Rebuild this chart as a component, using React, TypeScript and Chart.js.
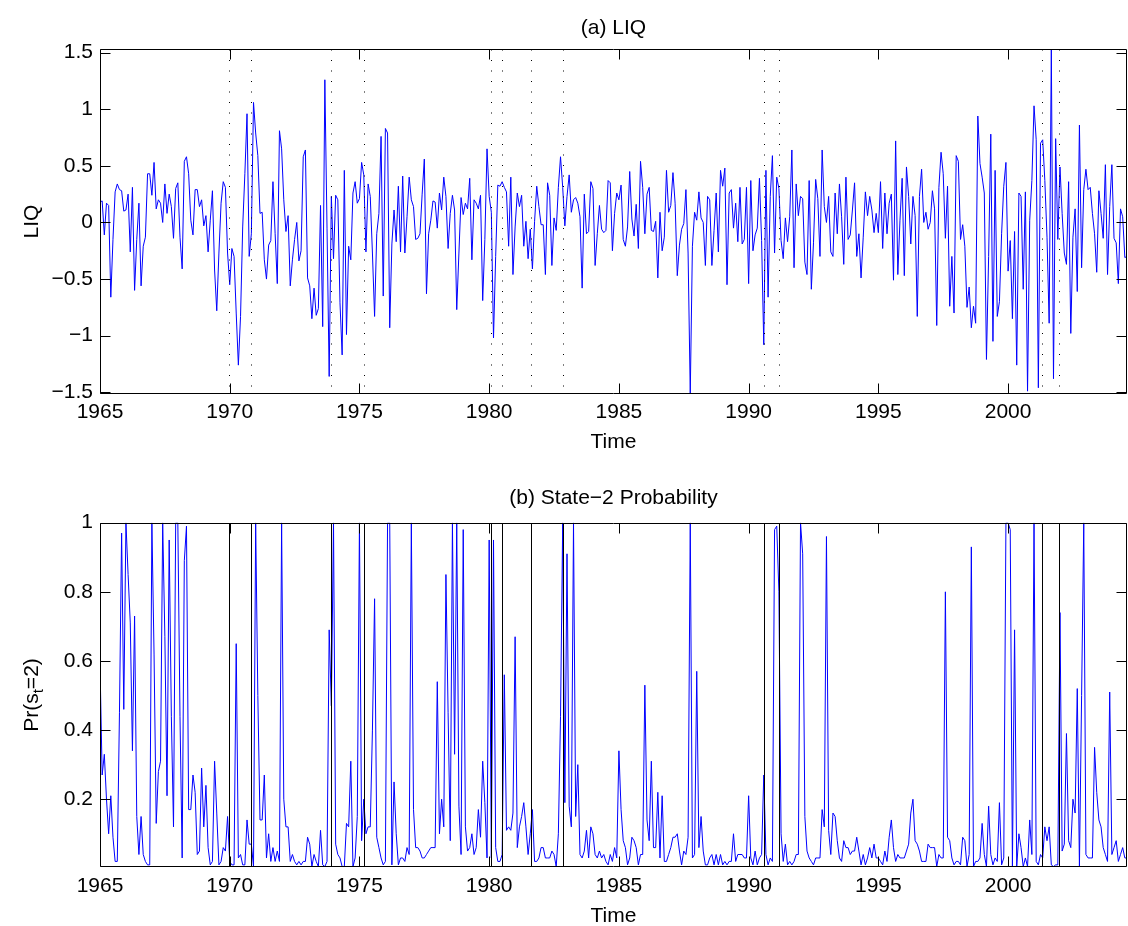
import React, { useEffect, useRef } from 'react';
import { Chart, registerables } from 'chart.js';

Chart.register(...registerables);

// ---------------- data ----------------
const START_YEAR = 1965;

// Monthly LIQ series, 1965:01 onward
const LIQ: number[] = [
  0.18, 0.19, -0.11, 0.17, 0.15, -0.66, -0.15, 0.27, 0.34, 0.29, 0.28, 0.10,
  0.11, 0.25, -0.26, 0.31, -0.60, -0.15, 0.17, -0.56, -0.21, -0.13, 0.43, 0.43,
  0.24, 0.53, 0.12, 0.20, 0.17, 0.00, 0.34, 0.08, 0.25, 0.14, -0.14, 0.30,
  0.35, -0.13, -0.41, 0.54, 0.58, 0.43, 0.02, -0.11, 0.29, 0.29, 0.14, 0.20,
  -0.03, 0.06, -0.26, 0.02, 0.28, -0.42, -0.78, -0.27, 0.17, 0.36, 0.31, -0.27,
  -0.55, -0.23, -0.30, -0.80, -1.26, -0.83, -0.04, 0.43, 0.96, -0.30, -0.10, 1.06,
  0.79, 0.59, 0.08, 0.09, -0.33, -0.50, -0.20, -0.16, 0.36, -0.10, -0.54, 0.81,
  0.65, 0.20, -0.08, 0.06, -0.56, -0.33, -0.15, 0.00, -0.34, -0.25, 0.58, 0.64,
  -0.49, -0.56, -0.85, -0.58, -0.82, -0.76, 0.15, -0.92, 1.26, -0.05, -1.36, 0.23,
  -0.32, 0.24, 0.20, -0.71, -1.17, 0.46, -0.99, -0.21, -0.33, 0.26, 0.36, 0.17,
  0.21, 0.53, 0.42, -0.26, 0.34, 0.23, -0.27, -0.83, -0.10, 0.08, 0.76, -0.65,
  0.83, 0.79, -0.93, -0.19, 0.11, -0.17, 0.32, -0.26, 0.41, -0.27, 0.05, 0.40,
  0.20, 0.14, -0.15, -0.14, -0.10, 0.25, 0.56, -0.63, -0.10, 0.02, 0.19, 0.18,
  -0.05, 0.26, 0.11, 0.40, 0.23, -0.23, 0.08, 0.24, 0.11, -0.77, -0.27, 0.22,
  0.07, 0.17, 0.12, 0.39, -0.33, 0.20, 0.17, 0.12, 0.24, -0.69, -0.15, 0.65,
  0.23, 0.09, -1.02, -0.30, 0.33, 0.32, 0.36, 0.31, 0.27, -0.21, 0.40, -0.46,
  -0.04, 0.26, 0.14, 0.24, -0.21, 0.01, -0.32, -0.06, -0.41, 0.01, 0.32, 0.14,
  -0.02, -0.02, -0.46, 0.35, 0.24, -0.38, 0.04, -0.07, 0.31, 0.58, 0.31, -0.03,
  0.23, 0.42, 0.09, 0.20, 0.22, 0.17, 0.05, -0.58, 0.25, -0.10, -0.08, 0.36,
  0.30, -0.38, -0.10, 0.15, -0.06, -0.09, -0.07, 0.37, 0.35, -0.25, 0.08, 0.26,
  0.20, 0.33, -0.15, -0.21, -0.04, 0.45, 0.03, -0.12, 0.16, -0.23, 0.54, 0.31,
  -0.10, 0.25, 0.31, -0.07, -0.08, 0.01, -0.49, 0.09, -0.25, -0.13, 0.46, 0.09,
  0.15, 0.44, 0.17, -0.47, -0.20, -0.06, -0.01, 0.29, -0.27, -1.515, -0.21, 0.09,
  0.02, 0.27, 0.04, 0.00, -0.38, 0.23, 0.20, -0.38, -0.07, 0.26, -0.26, 0.46,
  0.32, 0.48, -0.55, 0.26, 0.29, -0.05, 0.17, -0.17, 0.31, -0.19, -0.15, 0.31,
  -0.54, 0.37, -0.25, -0.11, -0.05, 0.39, -0.16, -1.08, 0.46, -0.66, 0.23, 0.59,
  -0.27, 0.40, 0.30, -0.16, -0.32, 0.04, -0.17, 0.05, 0.64, -0.40, 0.34, 0.06,
  0.23, 0.21, -0.35, -0.46, 0.37, -0.59, -0.18, 0.38, 0.21, -0.30, 0.64, 0.14,
  0.00, 0.23, -0.26, -0.30, 0.26, -0.10, 0.34, 0.05, -0.37, 0.40, -0.15, -0.11,
  0.11, 0.35, -0.30, -0.10, -0.49, -0.13, 0.27, 0.06, 0.23, 0.11, -0.09, 0.08,
  -0.09, 0.36, -0.23, 0.26, -0.10, 0.17, 0.25, -0.51, 0.72, -0.46, 0.02, 0.39,
  -0.47, 0.49, 0.23, -0.19, 0.23, 0.06, -0.83, 0.23, 0.47, 0.00, 0.09, -0.06,
  0.00, 0.28, 0.12, -0.91, 0.31, 0.62, 0.43, -0.14, 0.32, -0.74, -0.30, -0.80,
  0.59, 0.54, -0.15, -0.02, -0.21, -0.75, -0.57, -0.93, -0.74, -0.89, 0.94, 0.52,
  0.40, 0.26, -1.21, -0.30, 0.78, -1.05, 0.46, -0.83, -0.70, -0.10, 0.32, 0.53,
  -0.43, -0.16, -0.85, -0.08, -1.26, 0.26, 0.23, -0.59, 0.27, -1.49, 0.02, 0.37,
  1.03, 0.73, -1.46, 0.70, 0.73, 0.37, -0.13, -0.89, 1.53, -1.38, 0.74, -0.15,
  0.49, 0.08, -0.27, -0.37, 0.36, -0.98, -0.13, 0.12, -0.61, 0.86, -0.40, 0.29,
  0.47, 0.29, 0.31, 0.08, -0.10, -0.44, 0.28, 0.08, -0.14, 0.51, -0.46, 0.14,
  0.51, -0.14, -0.18, -0.54, 0.12, 0.05, -0.31, -0.30,
];

// Monthly state-2 probability, 1965:01 onward
const PROB: number[] = [
  0.59, 0.27, 0.33, 0.20, 0.10, 0.21, 0.09, 0.02, 0.02, 0.45, 0.97, 0.46,
  1.0, 0.85, 0.71, 0.34, 0.73, 0.15, 0.04, 0.15, 0.04, 0.02, 0.01, 0.01,
  1.0, 0.62, 0.13, 0.28, 0.31, 1.0, 0.67, 0.21, 0.95, 0.44, 0.12, 1.0,
  1.0, 0.44, 0.03, 0.89, 0.99, 0.17, 0.17, 0.27, 0.22, 0.04, 0.05, 0.29,
  0.12, 0.24, 0.06, 0.01, 0.02, 0.31, 0.16, 0.01, 0.02, 0.06, 0.05, 0.15,
  0.02, 0.01, 0.01, 0.65, 0.03, 0.04, 0.01, 0.01, 0.14, 0.07, 0.07, 0.005,
  1.0, 0.5, 0.14, 0.14, 0.27, 0.03, 0.10, 0.02, 0.06, 0.02, 0.05, 0.02,
  1.0, 0.2, 0.12, 0.12, 0.02, 0.04, 0.02, 0.01, 0.02, 0.01, 0.02, 0.02,
  0.09, 0.07, 0.005, 0.04, 0.02, 0.005, 0.11, 0.01, 0.005, 0.02, 0.69, 0.47,
  1.0, 0.07, 0.04, 0.03, 0.005, 0.005, 0.13, 0.12, 0.31, 0.005, 0.03, 0.15,
  1.0, 0.08, 0.2, 0.1, 0.12, 0.12, 0.4, 0.78, 0.09, 0.06, 0.03, 0.01,
  0.02, 1.0, 1.0, 0.01, 0.25, 0.1, 0.01, 0.03, 0.03, 0.02, 0.06, 0.04,
  1.0, 0.17, 0.06, 0.06, 0.05, 0.03, 0.03, 0.04, 0.05, 0.06, 0.06, 0.06,
  0.54, 0.10, 0.20, 0.12, 0.85, 0.45, 0.08, 1.0, 0.33, 1.0, 0.18, 0.04,
  0.98, 0.12, 0.05, 0.06, 0.10, 0.04, 0.06, 0.17, 0.09, 0.31, 0.19, 0.03,
  0.95, 0.03, 0.95, 0.06, 0.02, 0.02, 0.04, 0.56, 0.11, 0.12, 0.11, 0.16,
  0.67, 0.06, 0.12, 0.15, 0.19, 0.12, 0.04, 0.10, 0.17, 0.02, 0.02, 0.03,
  0.06, 0.06, 0.03, 0.03, 0.03, 0.05, 0.04, 0.005, 0.10, 0.44, 1.0, 0.19,
  0.91, 0.18, 0.12, 1.0, 0.15, 0.30, 0.04, 0.03, 0.05, 0.11, 0.03, 0.12,
  0.10, 0.04, 0.03, 0.05, 0.03, 0.04, 0.02, 0.01, 0.04, 0.02, 0.06, 0.03,
  0.34, 0.17, 0.08, 0.06, 0.01, 0.03, 0.09, 0.08, 0.06, 0.01, 0.04, 0.04,
  0.53, 0.14, 0.08, 0.31, 0.06, 0.06, 0.22, 0.03, 0.21, 0.02, 0.02, 0.04,
  0.06, 0.09, 0.09, 0.10, 0.05, 0.01, 0.05, 0.04, 0.09, 1.0, 0.03, 0.04,
  0.57, 0.06, 0.15, 0.05, 0.01, 0.01, 0.03, 0.04, 0.01, 0.04, 0.01, 0.04,
  0.01, 0.02, 0.01, 0.02, 0.02, 0.10, 0.02, 0.04, 0.04, 0.04, 0.03, 0.03,
  0.21, 0.03, 0.01, 0.05, 0.01, 0.03, 0.04, 0.27, 0.04, 0.01, 0.03, 0.02,
  0.98, 0.99, 0.80, 0.10, 0.02, 0.07, 0.01, 0.02, 0.01, 0.02, 0.04, 0.04,
  1.0, 0.91, 0.15, 0.05, 0.03, 0.02, 0.01, 0.03, 0.03, 0.03, 0.17, 0.12,
  0.96, 0.11, 0.04, 0.16, 0.15, 0.08, 0.03, 0.02, 0.08, 0.06, 0.06, 0.04,
  0.05, 0.05, 0.09, 0.05, 0.01, 0.04, 0.01, 0.03, 0.06, 0.03, 0.07, 0.03,
  0.03, 0.02, 0.01, 0.05, 0.02, 0.09, 0.14, 0.06, 0.02, 0.04, 0.03, 0.03,
  0.03, 0.05, 0.07, 0.16, 0.20, 0.08, 0.07, 0.05, 0.02, 0.02, 0.02, 0.07,
  0.06, 0.06, 0.06, 0.005, 0.04, 0.03, 0.03, 0.80, 0.09, 0.08, 0.03, 0.01,
  0.02, 0.02, 0.01, 0.09, 0.08, 0.005, 0.04, 0.93, 0.005, 0.02, 0.02, 0.03,
  0.13, 0.04, 0.005, 0.18, 0.04, 0.01, 0.03, 0.02, 0.19, 0.01, 0.03, 1.0,
  1.0, 0.98, 0.005, 0.69, 0.005, 0.10, 0.06, 0.005, 0.03, 0.005, 0.14, 0.04,
  1.0, 0.02, 0.01, 0.04, 0.03, 0.12, 0.08, 0.12, 0.01, 0.005, 0.01, 0.01,
  0.74, 0.05, 0.07, 0.39, 0.08, 0.06, 0.20, 0.16, 0.52, 0.005, 0.50, 1.0,
  0.04, 0.03, 0.03, 0.03, 0.35, 0.22, 0.14, 0.12, 0.06, 0.04, 0.02, 0.51,
  0.04, 0.06, 0.08, 0.02, 0.04, 0.06, 0.03, 0.03,
];

const MONTHS: number[] = LIQ.map((_, i) => START_YEAR + i / 12);

const X_TICKS = [1965, 1970, 1975, 1980, 1985, 1990, 1995, 2000];
const X_TICK_LABELS = ['1965', '1970', '1975', '1980', '1985', '1990', '1995', '2000'];

const LIQ_TICKS = [-1.5, -1, -0.5, 0, 0.5, 1, 1.5];
const LIQ_TICK_LABELS = ['\u22121.5', '\u22121', '\u22120.5', '0', '0.5', '1', '1.5'];
const LIQ_RANGE = [-1.515, 1.53];

const PROB_TICKS = [0.2, 0.4, 0.6, 0.8, 1];
const PROB_TICK_LABELS = ['0.2', '0.4', '0.6', '0.8', '1'];
const PROB_RANGE = [0.003, 1];

// NBER business-cycle dates (peaks / troughs) drawn as vertical lines
const RECESSION_LINES = [1969.98, 1970.81, 1973.92, 1975.17, 1980.07, 1980.5, 1981.6, 1982.84, 1990.6, 1991.16, 2001.29, 2001.97];

// ---------------- helpers ----------------
const FONT_FAMILY = '"Liberation Sans", Arial, Helvetica, sans-serif';
const FONT_SIZE = 21;
const TICK_LEN = 10;

function framePlugin(dotted: boolean, yTicks: number[], customYTitle: boolean) {
  return {
    id: 'matlabFrame',
    afterDatasetsDraw(chart: any) {
      const { ctx, chartArea: a, scales } = chart;
      const xs = scales.x;
      const ys = scales.y;
      const L = Math.round(a.left) + 0.5;
      const R = Math.round(a.right) - 0.5;
      const T = Math.round(a.top) + 0.5;
      const B = Math.round(a.bottom) - 0.5;
      ctx.save();
      ctx.strokeStyle = '#000';
      ctx.lineWidth = 1;
      // recession date lines
      if (dotted) ctx.setLineDash([1, 9.5]);
      RECESSION_LINES.forEach((d) => {
        const px = Math.round(xs.getPixelForValue(d)) + 0.5;
        ctx.beginPath();
        ctx.moveTo(px, T);
        ctx.lineTo(px, B);
        ctx.stroke();
      });
      ctx.setLineDash([]);
      // box
      ctx.beginPath();
      ctx.rect(L, T, R - L, B - T);
      ctx.stroke();
      // inward ticks
      ctx.beginPath();
      X_TICKS.forEach((v) => {
        const px = Math.round(xs.getPixelForValue(v)) + 0.5;
        ctx.moveTo(px, T);
        ctx.lineTo(px, T + TICK_LEN);
        ctx.moveTo(px, B);
        ctx.lineTo(px, B - TICK_LEN);
      });
      yTicks.forEach((v) => {
        const py = Math.round(ys.getPixelForValue(v)) + 0.5;
        ctx.moveTo(L, py);
        ctx.lineTo(L + TICK_LEN, py);
        ctx.moveTo(R, py);
        ctx.lineTo(R - TICK_LEN, py);
      });
      ctx.stroke();
      ctx.restore();
    },
    afterDraw(chart: any) {
      if (!customYTitle) return;
      const { ctx, chartArea: a } = chart;
      const big = `${FONT_SIZE}px ${FONT_FAMILY}`;
      const small = `15px ${FONT_FAMILY}`;
      const parts = [
        { t: 'Pr(s', f: big, dy: 0 },
        { t: 't', f: small, dy: 6 },
        { t: '=2)', f: big, dy: 0 },
      ];
      ctx.save();
      let total = 0;
      const widths = parts.map((p) => {
        ctx.font = p.f;
        const w = ctx.measureText(p.t).width;
        total += w;
        return w;
      });
      ctx.translate(32.6, (a.top + a.bottom) / 2);
      ctx.rotate(-Math.PI / 2);
      ctx.fillStyle = '#000';
      ctx.textBaseline = 'middle';
      ctx.textAlign = 'left';
      let x = -total / 2;
      parts.forEach((p, i) => {
        ctx.font = p.f;
        ctx.fillText(p.t, x, p.dy);
        x += widths[i];
      });
      ctx.restore();
    },
  };
}

type PanelProps = {
  top: number;
  height: number;
  title: string;
  titlePad: { top: number; bottom: number };
  yTitle: string | null;
  values: number[];
  yTicks: number[];
  yTickLabels: string[];
  yRange: number[];
  dotted: boolean;
  xAxisHeight: number;
  bottomPad: number;
};

function Panel(p: PanelProps) {
  const ref = useRef<HTMLCanvasElement>(null);
  useEffect(() => {
    const canvas = ref.current;
    if (!canvas) return;
    const font = { family: FONT_FAMILY, size: FONT_SIZE, lineHeight: 1.2 };
    const chart = new Chart(canvas, {
      type: 'line',
      data: {
        datasets: [
          {
            data: MONTHS.map((t, i) => ({ x: t, y: p.values[i] })),
            borderColor: '#0000ff',
            borderWidth: 1,
            pointRadius: 0,
            tension: 0,
            fill: false,
          },
        ],
      },
      options: {
        animation: false,
        responsive: false,
        devicePixelRatio: 1,
        events: [],
        layout: { padding: { left: 0, right: 1, top: 0, bottom: p.bottomPad } },
        plugins: {
          legend: { display: false },
          tooltip: { enabled: false },
          title: {
            display: true,
            text: p.title,
            fullSize: false,
            color: '#000',
            font: { ...font, weight: 'normal' },
            padding: p.titlePad,
          },
        },
        scales: {
          x: {
            type: 'linear',
            min: START_YEAR,
            max: MONTHS[MONTHS.length - 1],
            grid: { display: false, drawTicks: false },
            border: { display: false },
            afterBuildTicks: (s: any) => {
              s.ticks = X_TICKS.map((v) => ({ value: v }));
            },
            afterFit: (s: any) => {
              s.height = p.xAxisHeight;
            },
            ticks: {
              autoSkip: false,
              maxRotation: 0,
              minRotation: 0,
              padding: 6,
              color: '#000',
              font,
              callback: (_v: any, i: number) => X_TICK_LABELS[i],
            },
            title: {
              display: true,
              text: 'Time',
              color: '#000',
              font,
              padding: { top: 0, bottom: 0 },
            },
          },
          y: {
            type: 'linear',
            min: p.yRange[0],
            max: p.yRange[1],
            grid: { display: false, drawTicks: false },
            border: { display: false },
            afterBuildTicks: (s: any) => {
              s.ticks = p.yTicks.map((v) => ({ value: v }));
            },
            afterFit: (s: any) => {
              s.width = 100;
            },
            ticks: {
              autoSkip: false,
              padding: 7,
              color: '#000',
              font,
              callback: (_v: any, i: number) => p.yTickLabels[i],
            },
            title: {
              display: !!p.yTitle,
              text: p.yTitle || '',
              color: '#000',
              font,
              padding: { top: 20, bottom: 0 },
            },
          },
        },
      } as any,
      plugins: [framePlugin(p.dotted, p.yTicks, !p.yTitle)],
    });
    return () => chart.destroy();
  }, []);
  return (
    <canvas
      ref={ref}
      width={1128}
      height={p.height}
      style={{ position: 'absolute', left: 0, top: p.top, width: 1128, height: p.height, display: 'block' }}
    />
  );
}

export default function App() {
  return (
    <div style={{ position: 'absolute', left: 0, top: 0, width: 1128, height: 926, background: '#fff', overflow: 'hidden' }}>
      <Panel
        top={0}
        height={463}
        title="(a) LIQ"
        titlePad={{ top: 16, bottom: 8 }}
        yTitle="LIQ"
        values={LIQ}
        yTicks={LIQ_TICKS}
        yTickLabels={LIQ_TICK_LABELS}
        yRange={LIQ_RANGE}
        dotted={true}
        xAxisHeight={61}
        bottomPad={8}
      />
      <Panel
        top={463}
        height={466}
        title={'(b) State\u22122 Probability'}
        titlePad={{ top: 23, bottom: 11.5 }}
        yTitle={null}
        values={PROB}
        yTicks={PROB_TICKS}
        yTickLabels={PROB_TICK_LABELS}
        yRange={PROB_RANGE}
        dotted={false}
        xAxisHeight={61.3}
        bottomPad={0.4}
      />
    </div>
  );
}
